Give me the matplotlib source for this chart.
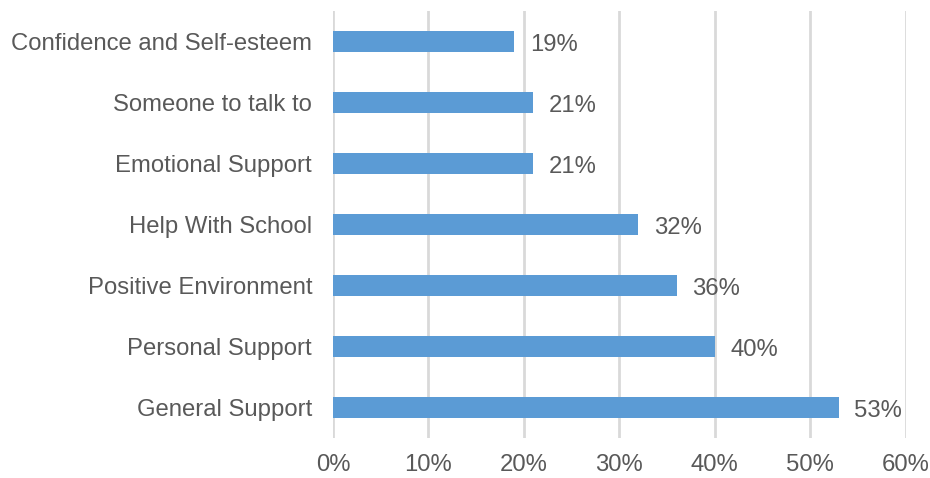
import numpy as np
import matplotlib.pyplot as plt
from matplotlib.ticker import FuncFormatter

plt.rcParams['font.family'] = ['Liberation Sans', 'DejaVu Sans']

#==== data ====
categories = ["Confidence and Self-esteem", "Someone to talk to", "Emotional Support",
              "Help With School", "Positive Environment", "Personal Support", "General Support"]
values = [19, 21, 21, 32, 36, 40, 53]   # percent
xticks = [0, 10, 20, 30, 40, 50, 60]

txtcol = "#595959"
barcol = "#5B9BD5"
fs = 17.2

fig = plt.figure(figsize=(9.3, 4.78), dpi=100)
ax = fig.add_axes([0.358, 0.0837, 0.616, 0.8933])

y = np.arange(len(categories))
ax.barh(y, values, height=0.36, color=barcol, zorder=3)
ax.set_ylim(len(categories) - 0.5, -0.5)
ax.set_yticks(y)
ax.set_yticklabels(categories)

for yi, v in zip(y, values):
    ax.annotate("%d%%" % v, (v, yi), xytext=(11, -1), textcoords="offset points",
                ha="left", va="center_baseline", fontsize=fs, color=txtcol)

ax.set_xlim(0, 60)
ax.set_xticks(xticks)
ax.xaxis.set_major_formatter(FuncFormatter(lambda x, p: "%d%%" % x))
ax.grid(axis="x", color="#D9D9D9", linewidth=2, zorder=0)

for s in ax.spines.values():
    s.set_visible(False)
ax.tick_params(axis="both", length=0, labelsize=fs, labelcolor=txtcol)
ax.tick_params(axis="y", pad=15)
ax.tick_params(axis="x", pad=11.5)

plt.savefig("out.png", dpi=100)
